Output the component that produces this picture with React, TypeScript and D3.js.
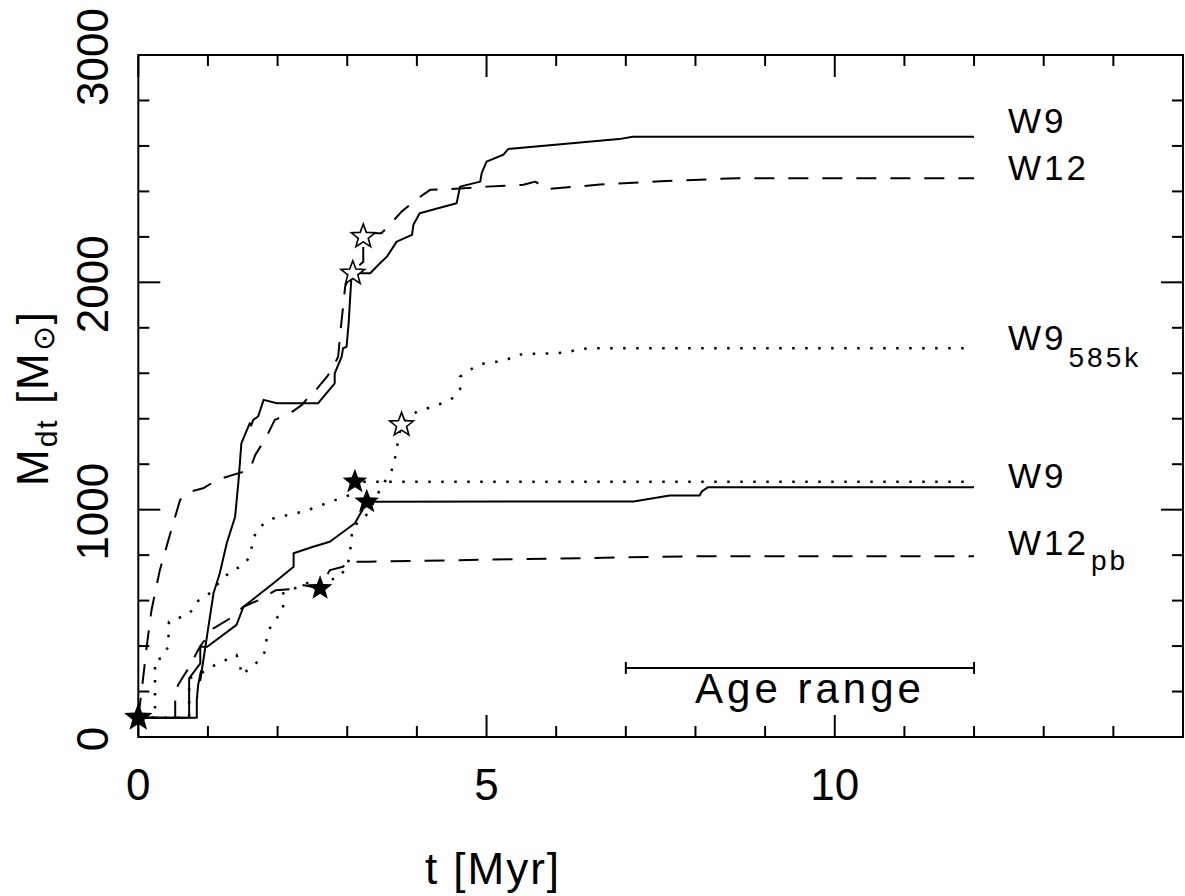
import React from "react";
import * as d3 from "d3";

// ---- data (t [Myr], M_dt [Msun]) ----
const w9Upper: [number, number][] = [
  [0, 85], [0.84, 85], [0.84, 163], [0.86, 230], [0.9, 290], [0.89, 250], [0.93, 330], [1.0, 471], [1.08, 632], [1.17, 720],
  [1.27, 852], [1.39, 969], [1.44, 1131], [1.48, 1292], [1.56, 1351], [1.6, 1380], [1.62, 1370], [1.65, 1395],
  [1.72, 1410], [1.8, 1483], [1.99, 1468], [2.58, 1468], [2.82, 1556], [2.82, 1600], [2.92, 1673],
  [2.94, 1710], [2.99, 1716], [3.02, 1820], [3.04, 1923], [3.06, 2025], [3.09, 2040], [3.33, 2040],
  [3.47, 2084], [3.57, 2113], [3.71, 2179], [3.93, 2209], [3.95, 2253], [4.04, 2304], [4.57, 2348],
  [4.62, 2421], [4.91, 2443], [4.93, 2480], [5.0, 2531], [5.24, 2561], [5.31, 2586], [6.9, 2630],
  [7.1, 2640], [12, 2640],
];
const w12Upper: [number, number][] = [
  [0, 85], [0.05, 207], [0.12, 397], [0.19, 559], [0.31, 735], [0.46, 896], [0.6, 1043], [0.74, 1079],
  [0.93, 1094], [1.13, 1131], [1.36, 1153], [1.6, 1175], [1.68, 1241], [1.84, 1321], [1.96, 1395],
  [2.18, 1424], [2.35, 1461], [2.47, 1505], [2.51, 1512], [2.71, 1585], [2.8, 1629], [2.87, 1673],
  [2.9, 1776], [2.94, 1893], [2.97, 1981], [3.05, 2040], [3.23, 2091], [3.23, 2201], [3.37, 2216],
  [3.49, 2216], [3.61, 2253], [3.78, 2311], [4.0, 2366], [4.19, 2407], [4.48, 2410], [5.0, 2421],
  [5.53, 2429], [5.7, 2443], [5.86, 2410], [6.17, 2418], [6.63, 2430], [7.5, 2445], [8.6, 2458], [12, 2458],
];
const w9Lower: [number, number][] = [
  [0, 85], [0.73, 85], [0.73, 258], [0.89, 324], [0.89, 397], [0.99, 397], [1.41, 493], [1.51, 573],
  [1.94, 676], [2.23, 749], [2.23, 808], [2.51, 837], [2.75, 859], [3.11, 940], [3.22, 1000], [3.28, 1035],
  [7.11, 1036], [7.63, 1062], [8.06, 1062], [8.09, 1080], [8.18, 1099], [12, 1099],
];
const w9DottedLower: [number, number][] = [
  [0, 85], [0.24, 85], [0.24, 339], [0.33, 346], [0.43, 397], [0.44, 507], [0.57, 522], [0.74, 544],
  [0.84, 595], [1.0, 625], [1.17, 683], [1.32, 727], [1.51, 757], [1.6, 793], [1.65, 867], [1.7, 911],
  [1.84, 947], [1.99, 969], [2.18, 977], [2.35, 991], [2.51, 1006], [2.7, 1028], [2.9, 1050], [3.04, 1065],
  [3.11, 1123], [12, 1123],
];
const w9_585k: [number, number][] = [
  [0, 85], [0.73, 85], [0.73, 258], [0.9, 280], [1.05, 309], [1.41, 361], [1.46, 317], [1.48, 273],
  [1.63, 309], [1.77, 346], [1.84, 390], [1.84, 441], [1.91, 493], [2.08, 559], [2.08, 632], [2.42, 676],
  [2.87, 698], [3.0, 749], [3.04, 808], [3.06, 881], [3.09, 925], [3.3, 984], [3.49, 1100], [3.57, 1138],
  [3.64, 1175], [3.71, 1255], [3.73, 1314], [3.78, 1373], [3.88, 1402], [4.0, 1431], [4.19, 1450],
  [4.36, 1468], [4.51, 1490], [4.62, 1527], [4.62, 1585], [4.76, 1615], [4.93, 1641], [5.12, 1649],
  [5.29, 1659], [5.43, 1681], [5.6, 1685], [5.96, 1688], [6.15, 1691], [6.32, 1706], [6.51, 1710], [12, 1710],
];
const w12pb: [number, number][] = [
  [0, 85], [0.53, 85], [0.53, 160], [0.57, 229], [0.72, 302], [0.89, 400], [1.08, 478], [1.32, 522],
  [1.51, 573], [1.75, 605], [1.97, 645], [2.23, 651], [2.35, 669], [2.61, 654], [2.75, 734], [2.94, 749],
  [3.0, 771], [3.3, 771], [5.0, 780], [8.0, 795], [12, 795],
];
const filledStars: [number, number][] = [[3.28, 1035], [3.11, 1123], [2.61, 654]];
const originStar: [number, number] = [0, 85];
const openStars: [number, number][] = [[3.08, 2040], [3.23, 2201], [3.78, 1373]];
const ageRange: [number, number, number] = [7, 12, 304];
const xMajor = [0, 5, 10, 15];
const xMinor = d3.range(0, 16, 1);
const yMajor = [0, 1000, 2000, 3000];
const yMinor = d3.range(0, 3001, 200);

const FONT = "'Liberation Sans', Arial, sans-serif";

export default function App() {
  const x = d3.scaleLinear().domain([0, 15]).range([138.3, 1183]);
  const y = d3.scaleLinear().domain([0, 3000]).range([737, 55]);
  const line = d3.line<[number, number]>().x((d) => x(d[0])).y((d) => y(d[1]));
  const starPath = (r: number) => {
    const pts: string[] = [];
    for (let i = 0; i < 10; i++) {
      const rr = i % 2 === 0 ? r : r * 0.42;
      const a = -Math.PI / 2 + (i * Math.PI) / 5;
      pts.push(`${(rr * Math.cos(a)).toFixed(2)},${(rr * Math.sin(a)).toFixed(2)}`);
    }
    return "M" + pts.join("L") + "Z";
  };
  const x0 = x(0), x1 = x(15), y0 = y(0), y1 = y(3000);
  const lineStyle = { fill: "none", stroke: "#000", strokeLinejoin: "round" as const };
  return (
    <svg width={1185} height={896} style={{ position: "absolute", left: 0, top: 0, background: "#fff" }} fontFamily={FONT}>
      <rect x={0} y={0} width={1185} height={896} fill="#fff" />
      {/* frame */}
      <rect x={x0} y={y1} width={x1 - x0} height={y0 - y1} fill="none" stroke="#000" strokeWidth={2} />
      {xMinor.map((t) => {
        const L = xMajor.includes(t) ? 22 : 11;
        return (
          <g key={"xt" + t} stroke="#000" strokeWidth={2}>
            <line x1={x(t)} x2={x(t)} y1={y0} y2={y0 - L} />
            <line x1={x(t)} x2={x(t)} y1={y1} y2={y1 + L} />
          </g>
        );
      })}
      {yMinor.map((m) => {
        const L = yMajor.includes(m) ? 22 : 11;
        return (
          <g key={"yt" + m} stroke="#000" strokeWidth={2}>
            <line x1={x0} x2={x0 + L} y1={y(m)} y2={y(m)} />
            <line x1={x1} x2={x1 - L} y1={y(m)} y2={y(m)} />
          </g>
        );
      })}
      {xMajor.slice(0, 3).map((t) => (
        <text key={"xl" + t} x={x(t)} y={800} fontSize={44} textAnchor="middle">{t}</text>
      ))}
      {yMajor.map((m) => (
        <text key={"yl" + m} transform={`translate(108,${y(m) + 2}) rotate(-90)`} fontSize={44} textAnchor="middle">{m}</text>
      ))}
      {/* axis titles */}
      <text x={493} y={884} fontSize={44} textAnchor="middle" letterSpacing={2}>t [Myr]</text>
      <text transform="translate(48,398) rotate(-90)" fontSize={44} textAnchor="middle" letterSpacing={2}>
        M<tspan fontSize={30} dy={9}>dt</tspan><tspan dy={-9}> [M</tspan><tspan fontSize={30} dy={6}>⊙</tspan><tspan dy={-6}>]</tspan>
      </text>
      {/* curves */}
      <path d={line(w9Upper) || ""} {...lineStyle} strokeWidth={2} />
      <path d={line(w9Lower) || ""} {...lineStyle} strokeWidth={2} />
      <path d={line(w12Upper) || ""} {...lineStyle} strokeWidth={2} strokeDasharray="20 14" />
      <path d={line(w12pb) || ""} {...lineStyle} strokeWidth={2} strokeDasharray="20 14" />
      <path d={line(w9DottedLower) || ""} fill="none" stroke="#000" strokeWidth={2.5} strokeDasharray="2.5 10.5" />
      <path d={line(w9_585k) || ""} fill="none" stroke="#000" strokeWidth={2.5} strokeDasharray="2.5 10.5" />
      {/* stars */}
      {filledStars.map((s, i) => (
        <path key={"fs" + i} d={starPath(13)} transform={`translate(${x(s[0])},${y(s[1])})`} fill="#000" />
      ))}
      <path d={starPath(15)} transform={`translate(${x(originStar[0])},${y(originStar[1])})`} fill="#000" />
      {openStars.map((s, i) => (
        <path key={"os" + i} d={starPath(12.5)} transform={`translate(${x(s[0])},${y(s[1])})`} fill="#fff" stroke="#000" strokeWidth={1.6} />
      ))}
      {/* age range */}
      <g stroke="#000" strokeWidth={2}>
        <line x1={x(ageRange[0])} x2={x(ageRange[1])} y1={y(ageRange[2])} y2={y(ageRange[2])} />
        <line x1={x(ageRange[0])} x2={x(ageRange[0])} y1={y(ageRange[2]) - 6} y2={y(ageRange[2]) + 6} />
        <line x1={x(ageRange[1])} x2={x(ageRange[1])} y1={y(ageRange[2]) - 6} y2={y(ageRange[2]) + 6} />
      </g>
      <text x={810} y={703} fontSize={42} textAnchor="middle" letterSpacing={4}>Age range</text>
      {/* labels */}
      <g fontSize={35} letterSpacing={3}>
        <text x={1008} y={133}>W9</text>
        <text x={1008} y={180}>W12</text>
        <text x={1008} y={350}>W9<tspan fontSize={28} dy={17} dx={2}>585k</tspan></text>
        <text x={1008} y={488}>W9</text>
        <text x={1008} y={555}>W12<tspan fontSize={28} dy={15} dx={2}>pb</tspan></text>
      </g>
    </svg>
  );
}
